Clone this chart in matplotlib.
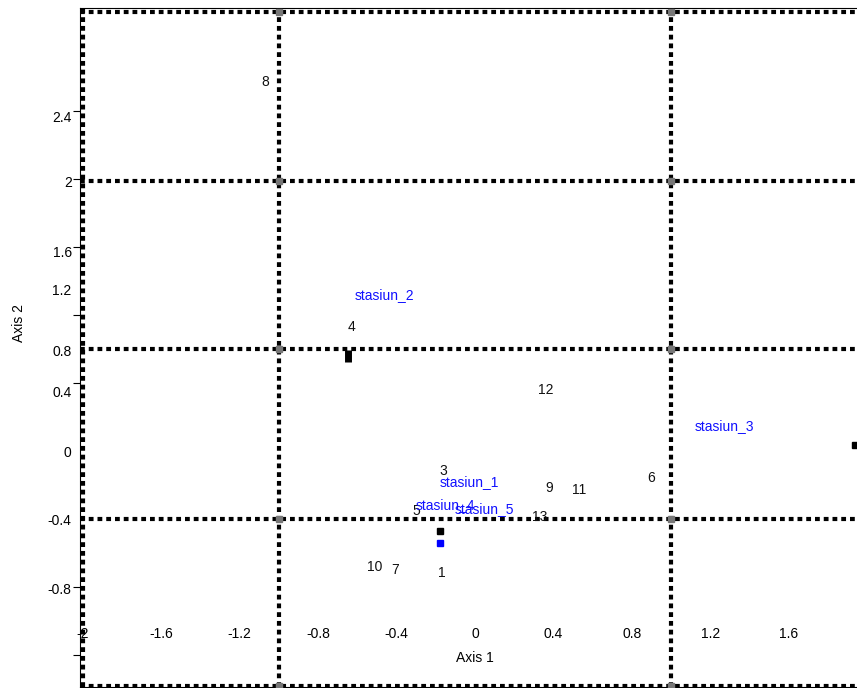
import numpy as np
import matplotlib
matplotlib.use("Agg")
import matplotlib.pyplot as plt

plt.rcParams["font.family"] = ["Liberation Sans", "DejaVu Sans"]

# species (rows) - label positions on axis 1 / axis 2
species = ["8", "4", "12", "3", "6", "9", "11", "5", "13", "10", "7", "1"]
sp_x = [-1.07, -0.63, 0.36, -0.16, 0.90, 0.38, 0.53, -0.30, 0.33, -0.51, -0.41, -0.17]
sp_y = [2.17, 0.73, 0.36, -0.12, -0.16, -0.22, -0.23, -0.35, -0.39, -0.68, -0.70, -0.72]

# stations (columns) - labels
stations = ["stasiun_2", "stasiun_3", "stasiun_1", "stasiun_4", "stasiun_5"]
st_x = [-0.46, 1.27, -0.03, -0.15, 0.05]
st_y = [0.92, 0.15, -0.18, -0.32, -0.34]

# point markers
pt_x = [-0.65, 1.94, -0.18]
pt_y = [0.56, 0.035, -0.47]
blue_x = [-0.18]
blue_y = [-0.54]

# grid lines
grid_v = [-2, -1, 1, 2]
grid_h = [2.58, 1.59, 0.60, -0.40, -1.38]

# tick labels
xtick_vals = [-2, -1.6, -1.2, -0.8, -0.4, 0, 0.4, 0.8, 1.2, 1.6]
xtick_labels = ["-2", "-1.6", "-1.2", "-0.8", "-0.4", "0", "0.4", "0.8", "1.2", "1.6"]
ytick_marks = [-1.2, -0.8, -0.4, 0, 0.4, 0.8, 1.2, 1.6, 2.0]
ytick_labels = ["2.4", "2", "1.6", "1.2", "0.8", "0.4", "0", "-0.4", "-0.8"]
ytick_label_pos = [1.965, 1.588, 1.176, 0.953, 0.594, 0.353, 0.0, -0.40, -0.806]

W, H = 857, 688
fig = plt.figure(figsize=(W / 100, H / 100), dpi=100)
left, right, top, bottom = 80, 875, 8, 687
ax = fig.add_axes([left / W, (H - bottom) / H, (right - left) / W, (bottom - top) / H])
ax.set_xlim(-2.015, 2.04)
ax.set_ylim(-1.388, 2.606)

for s in ax.spines.values():
    s.set_linewidth(0.8)

dot = dict(color="black", linewidth=3.0, linestyle=(0, (1.15, 0.95)), dash_capstyle="butt", zorder=3)
for gx in grid_v:
    ax.axvline(gx, **dot)
for gy in grid_h:
    ax.axhline(gy, **dot)
gx, gy = np.meshgrid(grid_v[1:3], grid_h)
ax.plot(gx.ravel(), gy.ravel(), "s", color="#777777", ms=4.5, zorder=4)

ax.plot(pt_x[:1], pt_y[:1], marker=(4, 0, 0), ls="none", color="black", ms=0, zorder=5)
ax.plot(pt_x[:1], pt_y[:1], "|", color="black", ms=8, mew=5, zorder=5)
ax.plot(pt_x[1:], pt_y[1:], "s", color="black", ms=5, zorder=5, clip_on=False)
ax.plot(blue_x, blue_y, "s", color="#0000ff", ms=4, zorder=5)

for lab, x, y in zip(species, sp_x, sp_y):
    ax.text(x, y, lab, fontsize=10, ha="center", va="center", color="#111111", zorder=6)
for lab, x, y in zip(stations, st_x, st_y):
    ax.text(x, y, lab, fontsize=10, ha="center", va="center", color="#1010ff", zorder=6)

# y axis: tick marks and (misplaced) labels
ax.set_yticks(ytick_label_pos, ytick_labels)
ax.tick_params(axis="y", which="major", length=0, pad=6, labelsize=10)
ax.set_yticks(ytick_marks, minor=True)
ax.tick_params(axis="y", which="minor", length=5, width=0.8, direction="out")
ax.tick_params(axis="x", bottom=False, labelbottom=False)

# x tick labels sit inside the frame
sec = ax.secondary_xaxis(location=(bottom - 627) / (bottom - top))
sec.set_xticks(xtick_vals, xtick_labels)
sec.tick_params(length=0, pad=0, labelsize=10)
sec.spines["bottom"].set_visible(False)

ax.set_xlabel("Axis 1", fontsize=10)
ax.xaxis.set_label_coords((475 - left) / (right - left), (bottom - 651) / (bottom - top))
ax.set_ylabel("Axis 2", fontsize=10)
ax.yaxis.set_label_coords((26 - left) / (right - left), (bottom - 323) / (bottom - top))

fig.savefig("out.png", dpi=100)
